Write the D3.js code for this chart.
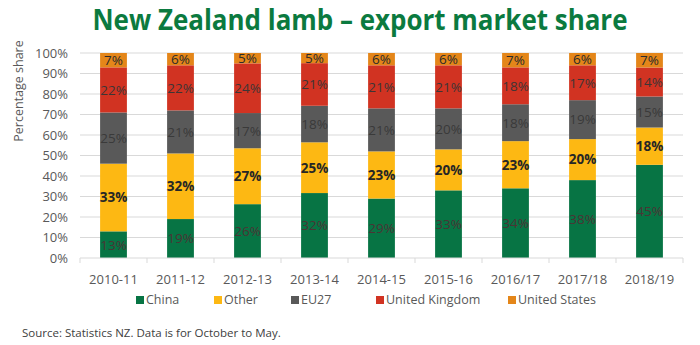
<!DOCTYPE html>
<html>
<head>
<meta charset="utf-8">
<script src="https://cdn.jsdelivr.net/npm/d3@7"></script>
<style>
  body { margin: 0; background: #fff; }
  svg { display: block; font-family: "Open Sans", "Noto Sans", sans-serif; }
</style>
</head>
<body>
<svg id="chart" width="700" height="345"></svg>
<script>
const seasons = ['2010-11', '2011-12', '2012-13', '2013-14', '2014-15', '2015-16', '2016/17', '2017/18', '2018/19'];
const markets = ['China', 'Other', 'EU27', 'United Kingdom', 'United States'];

// share of export volume, per cent
const china         = [13, 19, 26, 32, 29, 33, 34, 38, 45];
const other         = [33, 32, 27, 25, 23, 20, 23, 20, 18];
const eu27          = [25, 21, 17, 18, 21, 20, 18, 19, 15];
const unitedKingdom = [22, 22, 24, 21, 21, 21, 18, 17, 14];
const unitedStates  = [ 7,  6,  5,  5,  6,  6,  7,  6,  7];

const yTicks = [0, 0.1, 0.2, 0.3, 0.4, 0.5, 0.6, 0.7, 0.8, 0.9, 1];

const colors = ['#077444', '#fdb813', '#595959', '#d13322', '#e48619'];
const labelColors = ['#4a3535', '#262626', '#3a3a3a', '#3d3535', '#2b2b2b'];

const series = [china, other, eu27, unitedKingdom, unitedStates];
const rows = seasons.map((s, i) => {
  const r = { season: s };
  markets.forEach((m, j) => { r[m] = series[j][i]; });
  return r;
});

const svg = d3.select('#chart');
const margin = { left: 80, right: 17, top: 53, bottom: 87 };
const width = 700, height = 345;

const x = d3.scaleBand()
  .domain(seasons)
  .range([margin.left, width - margin.right]);
const barW = x.bandwidth() * 0.4;

const y = d3.scaleLinear()
  .domain([0, 1])
  .range([height - margin.bottom, margin.top]);

// stacked to 100% like the spreadsheet chart
const stacked = d3.stack()
  .keys(markets)
  .offset(d3.stackOffsetExpand)(rows);

// title
svg.append('text')
  .attr('x', 360)
  .attr('y', 30)
  .attr('text-anchor', 'middle')
  .attr('textLength', 535)
  .attr('lengthAdjust', 'spacingAndGlyphs')
  .style('font-size', '28px')
  .style('font-weight', 'bold')
  .style('fill', '#0b7a3f')
  .text('New Zealand lamb \u2013 export market share');

// gridlines
svg.append('g')
  .selectAll('line')
  .data(yTicks.slice(1))
  .join('line')
    .attr('x1', margin.left)
    .attr('x2', width - margin.right)
    .attr('y1', d => y(d))
    .attr('y2', d => y(d))
    .attr('stroke', '#d9d9d9')
    .attr('stroke-width', 1);

// y axis labels
const yAxis = d3.axisLeft(y)
  .tickValues(yTicks)
  .tickFormat(d3.format('.0%'))
  .tickSize(0)
  .tickPadding(12);

const yAxisG = svg.append('g')
  .attr('transform', `translate(${margin.left},0)`)
  .call(yAxis);
yAxisG.select('.domain').remove();
yAxisG.selectAll('text')
  .style('font-size', '13px')
  .style('font-family', '"Open Sans", sans-serif')
  .attr('fill', '#595959');

svg.append('text')
  .attr('transform', 'translate(23, 91) rotate(-90)')
  .attr('text-anchor', 'middle')
  .style('font-size', '12.5px')
  .style('fill', '#595959')
  .text('Percentage share');

// bars
const layers = svg.append('g')
  .selectAll('g')
  .data(stacked)
  .join('g')
    .attr('fill', (d, i) => colors[i]);

layers.selectAll('rect')
  .data(d => d)
  .join('rect')
    .attr('x', d => x(d.data.season) + (x.bandwidth() - barW) / 2)
    .attr('width', barW)
    .attr('y', d => y(d[1]))
    .attr('height', d => y(d[0]) - y(d[1]));

// data labels
layers.each(function(layer, i) {
  d3.select(this).selectAll('text')
    .data(layer)
    .join('text')
      .attr('x', d => x(d.data.season) + x.bandwidth() / 2)
      .attr('y', d => (y(d[0]) + y(d[1])) / 2)
      .attr('dy', '0.36em')
      .attr('text-anchor', 'middle')
      .style('font-size', '13.5px')
      .style('font-weight', i === 1 ? 'bold' : 'normal')
      .attr('fill', labelColors[i])
      .text(d => d.data[layer.key] + '%');
});

// x axis
const xAxisG = svg.append('g')
  .attr('transform', `translate(0,${y(0)})`);

xAxisG.append('line')
  .attr('x1', margin.left)
  .attr('x2', width - margin.right)
  .attr('stroke', '#d9d9d9');

xAxisG.selectAll('.tick-mark')
  .data(seasons.map(s => x(s)).concat([width - margin.right]))
  .join('line')
    .attr('class', 'tick-mark')
    .attr('x1', d => d)
    .attr('x2', d => d)
    .attr('y1', 0)
    .attr('y2', 5)
    .attr('stroke', '#d9d9d9');

xAxisG.selectAll('.tick-label')
  .data(seasons)
  .join('text')
    .attr('class', 'tick-label')
    .attr('x', d => x(d) + x.bandwidth() / 2)
    .attr('y', 26)
    .attr('text-anchor', 'middle')
    .style('font-size', '13px')
    .attr('fill', '#595959')
    .text(d => d);

// legend
const legendX = [136, 214, 291, 376, 508];
const legend = svg.append('g')
  .attr('transform', 'translate(0,300)')
  .selectAll('g')
  .data(markets)
  .join('g')
    .attr('transform', (d, i) => `translate(${legendX[i]},0)`);

legend.append('rect')
  .attr('y', -4)
  .attr('width', 8)
  .attr('height', 8)
  .attr('fill', (d, i) => colors[i]);

legend.append('text')
  .attr('x', 10)
  .attr('dy', '0.35em')
  .style('font-size', '12.5px')
  .attr('fill', '#595959')
  .text(d => d);

// source note
svg.append('text')
  .attr('x', 22)
  .attr('y', 337)
  .style('font-size', '11.5px')
  .attr('fill', '#404040')
  .text('Source: Statistics NZ. Data is for October to May.');
</script>
</body>
</html>
